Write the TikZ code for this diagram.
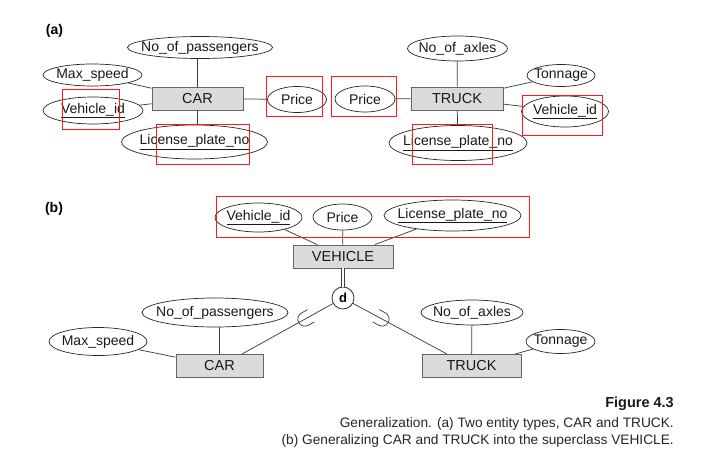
\documentclass[tikz,border=0pt]{standalone}
\usepackage{fontspec}
\setmainfont{Liberation Sans}
\usetikzlibrary{shapes.geometric}

\begin{document}
\begin{tikzpicture}[x = 1pt, y = -1pt,
		attr/.style = {ellipse, draw = black!85, line width = 0.7pt, inner sep = 0pt, text = black!90, font = \fontsize{14}{16}\selectfont},
		ent/.style = {rectangle, draw = black!60, line width = 0.9pt, fill = black!14, inner sep = 0pt, text = black!90, font = \fontsize{14.5}{16}\selectfont},
		conn/.style = {draw = black!75, line width = 0.75pt},
		hl/.style = {draw = red!90, line width = 0.9pt},
		cup/.pic = {\draw[conn] (-7, -7) -- (0, -7) arc (-90:90:7) -- (-7, 7);}]
	\useasboundingbox (0, 0) rectangle (708, 452);
		\node[ent, minimum width = 91, minimum height = 23] (car1) at (197.5, 98.5) {CAR};
		\node[ent, minimum width = 92, minimum height = 23] (truck1) at (457, 98.5) {TRUCK};
		\node[ent, minimum width = 100, minimum height = 23] (veh) at (343, 256.5) {VEHICLE};
		\node[ent, minimum width = 87, minimum height = 23] (car2) at (219.5, 366) {CAR};
		\node[ent, minimum width = 99, minimum height = 23] (truck2) at (471.5, 366) {TRUCK};
		\foreach \nm/\x/\y/\w/\h/\txt in {pass1/200/47.5/145/22/No\_of\_passengers, speed1/92.5/75/99/22/Max\_speed,
				vid1/93/110.5/100/27/\underline{Vehicle\_id}, lic1/194.5/142/146/34/\underline{License\_plate\_no},
				price1/297/99.5/59/26/Price, price2/365/99/60/26/Price, axles1/457.5/48.5/100/25/No\_of\_axles,
				ton1/561/75.5/68/22/Tonnage, vid2/565/111.5/87/31/\underline{Vehicle\_id},
				lic2/458/143/138/35/\underline{License\_plate\_no}, vid3/258.5/217.5/87/29/\underline{Vehicle\_id},
				price3/342.5/217/59/26/Price, lic3/452.5/215.5/137/31/\underline{License\_plate\_no},
				pass2/215/312.5/146/29/No\_of\_passengers, speed2/98/341.5/98/28/Max\_speed,
				axles2/472/312.5/102/25/No\_of\_axles, ton2/560.5/341.5/69/24/Tonnage}
			\node[attr, minimum width = \w, minimum height = \h] (\nm) at (\x, \y) {\makebox[0pt]{\txt}};
		\node[circle, draw = black!85, line width = 0.75pt, fill = white, minimum size = 22pt, inner sep = 0pt, font = \fontsize{13}{15}\selectfont\bfseries] (d) at (343, 298) {d};
		\draw[conn] (car1.north) to (car1.north |- pass1.south);
		\draw[conn] (car1.south) to (car1.south |- lic1.north);
		\foreach \a in {speed1, vid1, price1}
			\draw[conn] (\a) to (car1);
		\foreach \a in {axles1, ton1, vid2, lic2, price2}
			\draw[conn] (\a) to (truck1);
		\foreach \a in {vid3, price3, lic3}
			\draw[conn] (\a) to (veh);
		\draw[conn, double = white, double distance = 2pt] (veh) to (d);
		\draw[conn] (d) -- pic[pos = 0.31, sloped, allow upside down] {cup} ([xshift = 22.5pt]car2.north);
		\draw[conn] (d) -- pic[pos = 0.31, sloped, allow upside down] {cup} ([xshift = -24.5pt]truck2.north);
		\draw[conn] (car2.north) to (car2.north |- pass2.south);
		\draw[conn] (speed2) to (car2);
		\draw[conn] (axles2) to (truck2);
		\draw[conn] (ton2) to (truck2);
		\foreach \xa/\ya/\xb/\yb in {62/89.3/119.3/129.3, 156/124.3/249.3/164.3, 266.7/76/322.3/116, 331.7/76/396.7/116,
				412.3/124.3/492.7/164.3, 522.3/95/602.7/135, 216/196/529/237}
			\draw[hl] (\xa, \ya) rectangle (\xb, \yb);
		\node[font = \fontsize{14}{16}\selectfont\bfseries] (la) at (54.5, 31) {(a)};
		\node[font = \fontsize{14}{16}\selectfont\bfseries] (lb) at (54, 209) {(b)};
		\node[anchor = base east, inner sep = 0pt, text = black!90, font = \fontsize{14.5}{16}\selectfont\bfseries] (fig) at (674, 407) {Figure 4.3};
		\node[anchor = base east, inner sep = 0pt, text = black!85, font = \fontsize{13.7}{16}\selectfont] (cap1) at (674, 427.5) {Generalization. (a) Two entity types, CAR and TRUCK.};
		\node[anchor = base east, inner sep = 0pt, text = black!85, font = \fontsize{13.7}{16}\selectfont] (cap2) at (674, 444.5) {(b) Generalizing CAR and TRUCK into the superclass VEHICLE.};
	\end{tikzpicture}
\end{document}
